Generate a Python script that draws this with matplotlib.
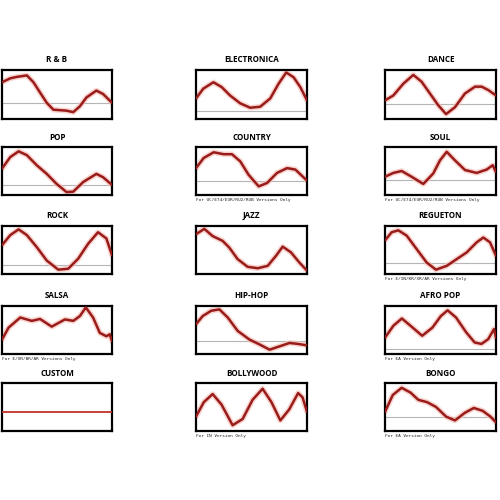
import matplotlib
matplotlib.use("Agg")
import matplotlib.pyplot as plt

# genre titles, grid order (row by row)
titles = ["R & B", "ELECTRONICA", "DANCE",
          "POP", "COUNTRY", "SOUL",
          "ROCK", "JAZZ", "REGUETON",
          "SALSA", "HIP-HOP", "AFRO POP",
          "CUSTOM", "BOLLYWOOD", "BONGO"]

notes = ["", "", "",
         "", "For UC/E74/EUR/RU2/RUB Versions Only", "For UC/E74/EUR/RU2/RUB Versions Only",
         "", "", "For E/IN/KR/XR/AR Versions Only",
         "For E/XR/BR/AR Versions Only", "", "For EA Version Only",
         "", "For IN Version Only", "For EA Version Only"]

# gray reference level in each box (None = not visible)
baselines = [0.32, 0.16, 0.30,
             0.21, 0.30, 0.31,
             0.19, None, 0.23,
             None, 0.27, 0.10,
             None, None, 0.30]

rnb_x = [0, 0.075, 0.136, 0.226, 0.286, 0.346, 0.407, 0.467, 0.527, 0.587, 0.648, 0.708, 0.768, 0.858, 0.919, 1.0]
rnb_y = [0.75, 0.83, 0.86, 0.89, 0.75, 0.54, 0.33, 0.19, 0.18, 0.17, 0.14, 0.26, 0.44, 0.58, 0.51, 0.33]

elec_x = [0, 0.066, 0.157, 0.232, 0.307, 0.398, 0.488, 0.578, 0.669, 0.744, 0.813, 0.88, 0.94, 1.0]
elec_y = [0.42, 0.62, 0.75, 0.65, 0.48, 0.32, 0.23, 0.25, 0.42, 0.72, 0.95, 0.85, 0.65, 0.38]

dance_x = [0, 0.075, 0.165, 0.255, 0.33, 0.405, 0.48, 0.55, 0.63, 0.72, 0.811, 0.871, 0.931, 1.0]
dance_y = [0.38, 0.48, 0.72, 0.90, 0.76, 0.52, 0.28, 0.10, 0.24, 0.52, 0.66, 0.66, 0.59, 0.48]

pop_x = [0, 0.075, 0.151, 0.226, 0.316, 0.407, 0.497, 0.587, 0.648, 0.738, 0.858, 0.919, 1.0]
pop_y = [0.55, 0.79, 0.91, 0.83, 0.62, 0.44, 0.23, 0.06, 0.07, 0.27, 0.44, 0.37, 0.21]

country_x = [0, 0.069, 0.159, 0.249, 0.324, 0.399, 0.474, 0.565, 0.640, 0.730, 0.820, 0.895, 1.0]
country_y = [0.56, 0.77, 0.89, 0.85, 0.85, 0.70, 0.42, 0.18, 0.25, 0.46, 0.56, 0.53, 0.30]

soul_x = [0, 0.075, 0.15, 0.24, 0.345, 0.435, 0.495, 0.556, 0.631, 0.721, 0.826, 0.916, 0.97, 1.0]
soul_y = [0.38, 0.46, 0.50, 0.38, 0.23, 0.45, 0.72, 0.90, 0.72, 0.52, 0.46, 0.53, 0.62, 0.48]

rock_x = [0, 0.075, 0.151, 0.226, 0.316, 0.407, 0.512, 0.602, 0.693, 0.783, 0.873, 0.949, 1.0]
rock_y = [0.60, 0.81, 0.93, 0.81, 0.56, 0.28, 0.09, 0.11, 0.32, 0.63, 0.87, 0.74, 0.39]

jazz_x = [0, 0.075, 0.15, 0.24, 0.30, 0.375, 0.465, 0.556, 0.646, 0.721, 0.781, 0.856, 0.931, 1.0]
jazz_y = [0.83, 0.94, 0.79, 0.69, 0.55, 0.31, 0.15, 0.12, 0.17, 0.38, 0.57, 0.45, 0.24, 0.07]

regueton_x = [0, 0.06, 0.12, 0.195, 0.285, 0.375, 0.459, 0.556, 0.646, 0.736, 0.826, 0.886, 0.946, 1.0]
regueton_y = [0.70, 0.87, 0.91, 0.80, 0.52, 0.24, 0.09, 0.17, 0.31, 0.45, 0.66, 0.76, 0.66, 0.38]

salsa_x = [0, 0.06, 0.166, 0.271, 0.346, 0.452, 0.572, 0.648, 0.708, 0.762, 0.828, 0.889, 0.949, 0.979, 1.0]
salsa_y = [0.30, 0.55, 0.76, 0.69, 0.73, 0.57, 0.72, 0.69, 0.79, 0.97, 0.76, 0.44, 0.37, 0.41, 0.27]

hiphop_x = [0, 0.06, 0.136, 0.211, 0.286, 0.376, 0.482, 0.572, 0.663, 0.753, 0.843, 0.919, 1.0]
hiphop_y = [0.62, 0.79, 0.90, 0.93, 0.76, 0.48, 0.30, 0.20, 0.09, 0.16, 0.23, 0.21, 0.18]

afropop_x = [0, 0.076, 0.152, 0.229, 0.335, 0.427, 0.503, 0.564, 0.64, 0.732, 0.808, 0.869, 0.93, 0.982, 1.0]
afropop_y = [0.34, 0.59, 0.74, 0.59, 0.38, 0.55, 0.79, 0.91, 0.76, 0.45, 0.24, 0.21, 0.31, 0.52, 0.34]

custom_x = [0, 1.0]
custom_y = [0.39, 0.39]

bolly_x = [0, 0.07, 0.15, 0.23, 0.33, 0.42, 0.51, 0.60, 0.68, 0.76, 0.84, 0.92, 0.96, 1.0]
bolly_y = [0.30, 0.60, 0.77, 0.55, 0.12, 0.25, 0.65, 0.88, 0.60, 0.22, 0.45, 0.79, 0.70, 0.40]

bongo_x = [0, 0.07, 0.15, 0.23, 0.30, 0.38, 0.46, 0.55, 0.63, 0.72, 0.80, 0.88, 0.95, 1.0]
bongo_y = [0.40, 0.75, 0.90, 0.80, 0.65, 0.60, 0.50, 0.30, 0.22, 0.38, 0.48, 0.42, 0.30, 0.18]

curves = [(rnb_x, rnb_y), (elec_x, elec_y), (dance_x, dance_y),
          (pop_x, pop_y), (country_x, country_y), (soul_x, soul_y),
          (rock_x, rock_y), (jazz_x, jazz_y), (regueton_x, regueton_y),
          (salsa_x, salsa_y), (hiphop_x, hiphop_y), (afropop_x, afropop_y),
          (custom_x, custom_y), (bolly_x, bolly_y), (bongo_x, bongo_y)]

W = H = 500
fig = plt.figure(figsize=(5, 5), dpi=100)
fig.patch.set_facecolor("white")

# box placement in pixels (left, right) per column, (top, bottom) per row
cols = [(2, 112), (196, 307), (385, 496)]
rows = [(70, 119), (147, 195), (226, 274), (306, 354), (383, 431)]

for i, title in enumerate(titles):
    r, c = divmod(i, 3)
    x0, x1 = cols[c]
    y0, y1 = rows[r]
    ax = fig.add_axes([x0 / W, 1 - y1 / H, (x1 - x0) / W, (y1 - y0) / H])
    ax.set_xlim(0, 1)
    ax.set_ylim(0, 1)
    ax.set_xticks([])
    ax.set_yticks([])
    for sp in ax.spines.values():
        sp.set_linewidth(1.6)
        sp.set_color("black")

    if baselines[i] is not None:
        ax.axhline(baselines[i], color="#b5b5b5", lw=0.8, zorder=1)

    xs, ys = curves[i]
    if title == "CUSTOM":
        ax.plot(xs, ys, color="#c0302a", lw=1.3, zorder=3)
    else:
        ax.plot(xs, ys, color="#f6c2bb", lw=4.0, alpha=0.7, zorder=2,
                solid_joinstyle="round", solid_capstyle="round")
        ax.plot(xs, ys, color="#9a1c1a", lw=1.8, zorder=3,
                solid_joinstyle="round", solid_capstyle="round")

    fig.text((x0 + x1) / 2 / W, 1 - (y0 - 10) / H, title, ha="center", va="center",
             fontsize=5.8, fontweight="bold", family="Open Sans")
    if notes[i]:
        fig.text(x0 / W, 1 - (y1 + 5) / H, notes[i], ha="left", va="center",
                 fontsize=3.2, family="DejaVu Sans Mono", color="#222222")

fig.savefig("out.png", dpi=100, facecolor="white")
